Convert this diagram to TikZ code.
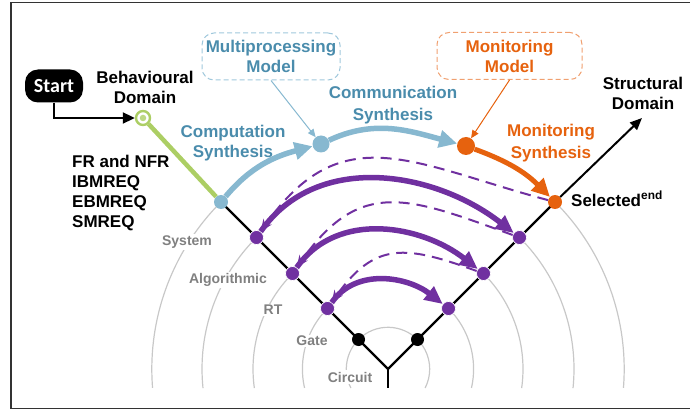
\documentclass[tikz,border=0pt]{standalone}
\usepackage{fontspec}
\setmainfont{Liberation Sans}
\newfontfamily\startfont{Carlito}
\usetikzlibrary{arrows.meta}
\definecolor{lblue}{RGB}{135,184,208}
\definecolor{tblue}{RGB}{74,140,172}
\definecolor{dblue}{RGB}{160,200,220}
\definecolor{orng}{RGB}{230,98,14}
\definecolor{lorng}{RGB}{240,160,112}
\definecolor{grn}{RGB}{172,206,100}
\definecolor{purp}{RGB}{112,48,160}
\definecolor{gline}{RGB}{200,200,200}
\definecolor{gtext}{RGB}{128,128,128}
\begin{document}
\begin{tikzpicture}[x=1pt,y=1pt,
  lbl/.style={font=\bfseries\fontsize{17}{20}\selectfont, align=center, inner sep=0pt},
  lbltwo/.style={font=\bfseries\fontsize{17}{22}\selectfont, align=center, inner sep=0pt},
  lvl/.style={font=\bfseries\fontsize{14}{16}\selectfont, text=gtext, fill=white, inner sep=1.5pt},
  pdot/.style={circle, inner sep=0pt, minimum size=#1},
  purpdot/.style={pdot=14, fill=purp, draw=white, line width=0.6},
  garc/.style={gline, line width=1.2},
  solidarr/.style={purp, line width=5.5, -{Triangle[length=18pt,width=16pt]}},
  dasharr/.style={purp, line width=2, dash pattern=on 11pt off 7pt, -{Stealth[length=12pt,width=10pt]}},
  bigarr/.style={line width=5.5, -{Triangle[length=18pt,width=17pt]}},
  dbox/.style={lbl, rounded corners=12pt, line width=1, dash pattern=on 5pt off 3pt, minimum height=47pt}
]
\useasboundingbox (0,0) rectangle (690,410);
% frame
\draw[line width=1.3, black!80] (697,407.5) -- (11,407.5) -- (11,1.5) -- (697,1.5);

\coordinate (A) at (388,41);
\coordinate (stem) at (388,22);

% grey level arcs
\draw[garc] (A) ++(207.1:41.7) arc[start angle=207.1, end angle=-27.1, radius=41.7];
\draw[garc] (A) ++(135:85.6) arc[start angle=135, end angle=192.8, radius=85.6];
\draw[garc] (A) ++(45:85.6) arc[start angle=45, end angle=-12.8, radius=85.6];
\draw[garc] (A) ++(135:135) arc[start angle=135, end angle=188.1, radius=135];
\draw[garc] (A) ++(45:135) arc[start angle=45, end angle=-8.1, radius=135];
\draw[garc] (A) ++(135:186) arc[start angle=135, end angle=185.9, radius=186];
\draw[garc] (A) ++(45:186) arc[start angle=45, end angle=-5.9, radius=186];
\draw[garc] (A) ++(135:236.2) arc[start angle=135, end angle=184.6, radius=236.2];
\draw[garc] (A) ++(45:236.2) arc[start angle=45, end angle=-4.6, radius=236.2];

\node[lvl] (lsys) at (187,168) {System};
\node[lvl] (lalg) at (228,130) {Algorithmic};
\node[lvl] (lrt) at (273,100) {RT};
\node[lvl] (lgate) at (312,69) {Gate};
\node[lvl] (lcirc) at (350,33) {Circuit};

% arms
\coordinate (sysc) at (221,208);
\coordinate (selc) at (555,208);
\draw[line width=2.3] (sysc) -- (A) -- (selc);
\draw[line width=2.3] (A) -- (stem);

% dots
\node[pdot=14, fill=lblue] (sys) at (sysc) {};
\node[pdot=14, fill=orng] (sel) at (selc) {};
\node[purpdot] (L1) at (256.5,172.5) {};
\node[purpdot] (L2) at (292.5,136.5) {};
\node[purpdot] (L3) at (327.5,101.5) {};
\node[purpdot] (R1) at (519.5,172.5) {};
\node[purpdot] (R2) at (483.5,136.5) {};
\node[purpdot] (R3) at (448.5,101.5) {};
\node[pdot=13, fill=black] (B1) at (358.5,70.5) {};
\node[pdot=13, fill=black] (B2) at (417.5,70.5) {};
\node[pdot=17, fill=lblue] (mp) at (321,266) {};
\node[pdot=18, fill=orng] (mon) at (466,264) {};

% purple arrows
\draw[solidarr] (L1) to[out=55,in=142] (R1);
\draw[solidarr] (L2) to[out=55,in=142] (R2);
\draw[solidarr] (L3) to[out=55,in=142] (R3);
\draw[dasharr] (sel) to[out=165,in=55,looseness=1.25] (L1);
\draw[dasharr] (R1) to[out=160,in=55,looseness=1.3] (L2);
\draw[dasharr] (R2) to[out=160,in=55,looseness=1.3] (L3);

% start and behavioural
\node[fill=black, rounded corners=13pt, minimum width=58pt, minimum height=33pt, inner sep=0pt,
      text=white, font=\startfont\bfseries\fontsize{20}{22}\selectfont] (start) at (54,324) {Start};
\node[pdot=14, draw=grn, line width=2.4, fill=white] (grn) at (143,292) {};
\node[pdot=6.5, fill=grn!80] (grnc) at (grn.center) {};
\draw[line width=2, -{Triangle[length=12pt,width=11pt]}] (start.south) |- (grn.west);
\draw[grn, line width=4.5] (grn) -- (sys);

% synthesis arrows
\draw[bigarr, lblue] (sys) to[out=50,in=195] (mp);
\draw[bigarr, lblue] (mp) to[out=25,in=165] (mon);
\draw[bigarr, orng, line width=5] (mon) to[out=-20,in=135] (sel);

% structural arrow
\coordinate (strend) at (642,292);
\draw[line width=2, -{Triangle[length=12pt,width=10pt]}] (sel) -- (strend);

% model boxes
\node[dbox, draw=dblue, text=tblue, minimum width=138pt] (mpbox) at (271,353.5) {Multiprocessing\\Model};
\node[dbox, draw=lorng, text=orng, minimum width=145pt] (monbox) at (509.5,354) {Monitoring\\Model};
\draw[lblue, line width=1, -{Triangle[length=8pt,width=7pt]}] (mpbox.south) -- (mp);
\draw[orng, line width=1, -{Triangle[length=8pt,width=7pt]}] (monbox.south) -- (mon);

% texts
\node[lbl] (beh) at (145,323) {Behavioural\\Domain};
\node[lbl] (str) at (643,317) {Structural\\Domain};
\node[lbl, align=left, anchor=west] (req) at (72,216.5) {FR and NFR\\IBMREQ\\EBMREQ\\SMREQ};
\node[lbl, text=tblue] (comp) at (233,267) {Computation\\Synthesis};
\node[lbltwo, text=tblue] (comm) at (393,304.5) {Communication\\Synthesis};
\node[lbltwo, text=orng] (mons) at (551,266.5) {Monitoring\\Synthesis};
\node[lbl, anchor=base west] (seltxt) at (571,204) {Selected\textsuperscript{end}};
\end{tikzpicture}
\end{document}
